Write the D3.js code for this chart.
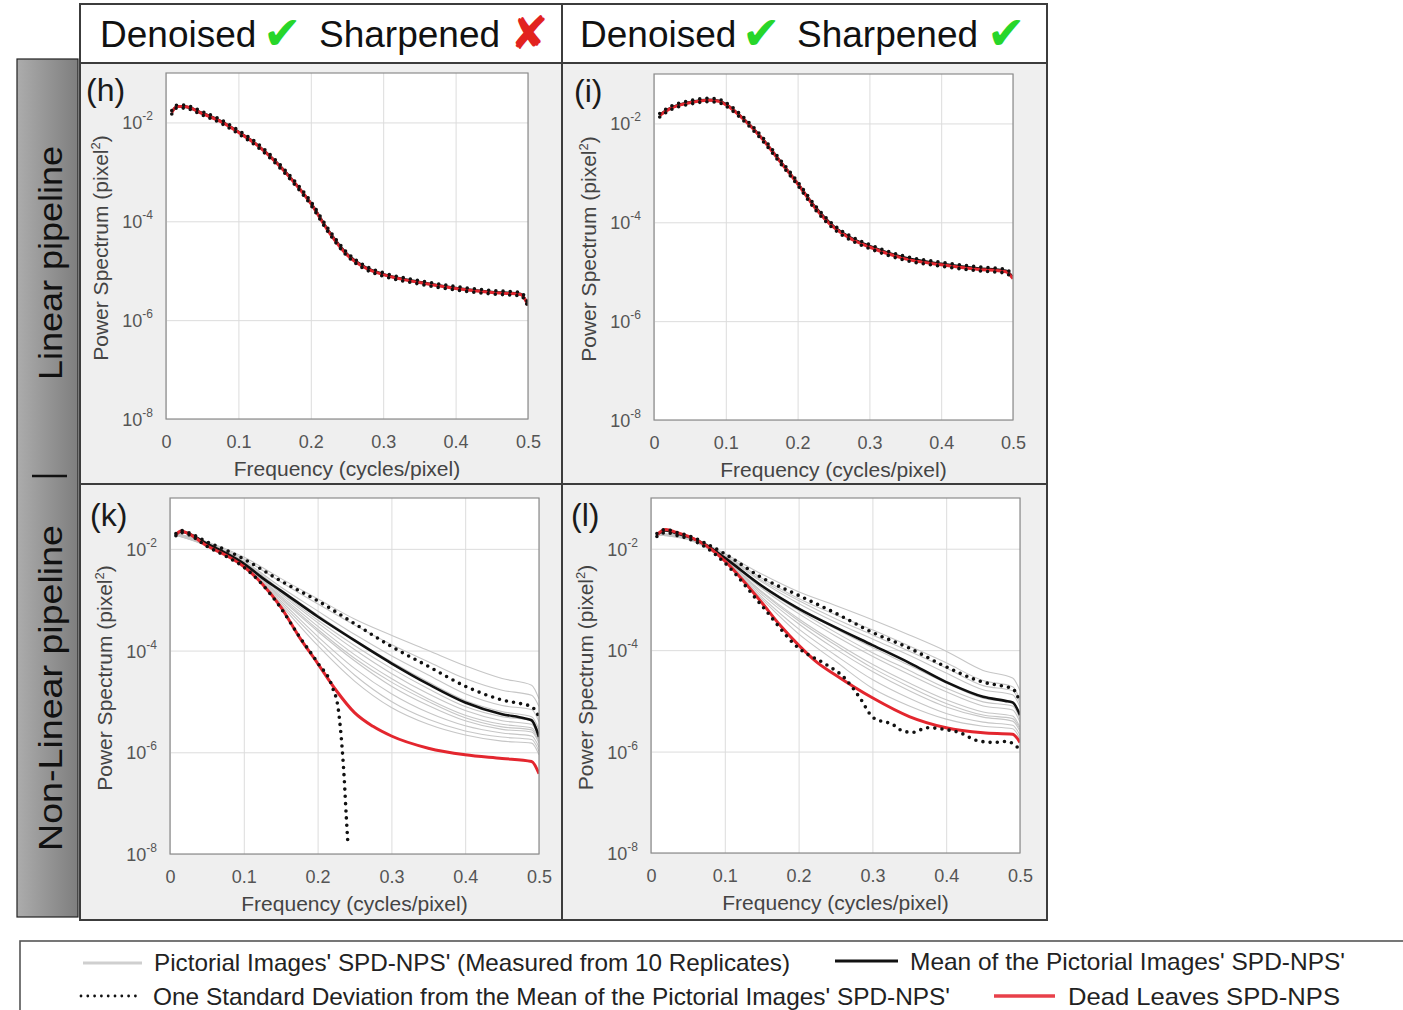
<!DOCTYPE html>
<html>
<head>
<meta charset="utf-8">
<style>
body { margin: 0; background: #fff; }
text { font-family: "Liberation Sans", Arial, Helvetica, sans-serif; }
</style>
</head>
<body>
<svg id="fig" width="1403" height="1010"></svg>
<script src="https://cdn.jsdelivr.net/npm/d3@7"></script>
<script>
// ---- data: [frequency, log10(power)] ----
var hRed   = [[0.008,-1.80],[0.015,-1.68],[0.025,-1.68],[0.05,-1.82],[0.075,-1.98],[0.1,-2.2],[0.125,-2.45],[0.15,-2.78],[0.175,-3.18],[0.2,-3.64],[0.225,-4.22],[0.25,-4.68],[0.275,-4.94],[0.3,-5.08],[0.35,-5.24],[0.4,-5.36],[0.45,-5.44],[0.49,-5.48],[0.5,-5.7]];
var hMean  = [[0.008,-1.79],[0.015,-1.68],[0.025,-1.68],[0.05,-1.81],[0.075,-1.97],[0.1,-2.19],[0.125,-2.44],[0.15,-2.77],[0.175,-3.17],[0.2,-3.63],[0.225,-4.2],[0.25,-4.66],[0.275,-4.93],[0.3,-5.07],[0.35,-5.23],[0.4,-5.35],[0.45,-5.43],[0.49,-5.47],[0.5,-5.69]];
var hUpper = [[0.008,-1.76],[0.015,-1.65],[0.025,-1.65],[0.05,-1.78],[0.075,-1.94],[0.1,-2.16],[0.125,-2.41],[0.15,-2.74],[0.175,-3.14],[0.2,-3.6],[0.225,-4.17],[0.25,-4.63],[0.275,-4.9],[0.3,-5.04],[0.35,-5.2],[0.4,-5.32],[0.45,-5.4],[0.49,-5.44],[0.5,-5.66]];
var hLower = [[0.008,-1.83],[0.015,-1.71],[0.025,-1.71],[0.05,-1.85],[0.075,-2.01],[0.1,-2.23],[0.125,-2.48],[0.15,-2.81],[0.175,-3.21],[0.2,-3.67],[0.225,-4.24],[0.25,-4.7],[0.275,-4.97],[0.3,-5.11],[0.35,-5.27],[0.4,-5.39],[0.45,-5.47],[0.49,-5.51],[0.5,-5.73]];

var iRed   = [[0.008,-1.84],[0.02,-1.72],[0.035,-1.63],[0.05,-1.58],[0.075,-1.53],[0.09,-1.55],[0.1,-1.62],[0.125,-1.92],[0.15,-2.3],[0.175,-2.76],[0.2,-3.22],[0.225,-3.72],[0.25,-4.1],[0.275,-4.34],[0.3,-4.5],[0.35,-4.74],[0.4,-4.86],[0.45,-4.95],[0.49,-5.0],[0.5,-5.14]];
var iMean  = [[0.008,-1.83],[0.02,-1.71],[0.035,-1.62],[0.05,-1.57],[0.075,-1.52],[0.09,-1.54],[0.1,-1.61],[0.125,-1.91],[0.15,-2.29],[0.175,-2.75],[0.2,-3.21],[0.225,-3.7],[0.25,-4.08],[0.275,-4.32],[0.3,-4.48],[0.35,-4.72],[0.4,-4.84],[0.45,-4.93],[0.49,-4.98],[0.5,-5.12]];
var iUpper = [[0.008,-1.8],[0.02,-1.68],[0.035,-1.59],[0.05,-1.54],[0.075,-1.49],[0.09,-1.51],[0.1,-1.58],[0.125,-1.88],[0.15,-2.26],[0.175,-2.72],[0.2,-3.18],[0.225,-3.67],[0.25,-4.05],[0.275,-4.29],[0.3,-4.45],[0.35,-4.69],[0.4,-4.81],[0.45,-4.9],[0.49,-4.95],[0.5,-5.09]];
var iLower = [[0.008,-1.87],[0.02,-1.75],[0.035,-1.66],[0.05,-1.61],[0.075,-1.56],[0.09,-1.58],[0.1,-1.65],[0.125,-1.95],[0.15,-2.33],[0.175,-2.79],[0.2,-3.25],[0.225,-3.75],[0.25,-4.13],[0.275,-4.37],[0.3,-4.53],[0.35,-4.77],[0.4,-4.89],[0.45,-4.98],[0.49,-5.03],[0.5,-5.17]];

var kRed   = [[0.008,-1.72],[0.015,-1.65],[0.025,-1.7],[0.05,-1.94],[0.075,-2.12],[0.1,-2.35],[0.125,-2.69],[0.15,-3.14],[0.175,-3.73],[0.2,-4.25],[0.225,-4.78],[0.25,-5.22],[0.275,-5.49],[0.3,-5.68],[0.35,-5.92],[0.4,-6.05],[0.45,-6.12],[0.49,-6.18],[0.5,-6.42]];
var kMean  = [[0.008,-1.72],[0.015,-1.66],[0.025,-1.7],[0.05,-1.9],[0.075,-2.08],[0.1,-2.29],[0.125,-2.57],[0.15,-2.82],[0.2,-3.33],[0.25,-3.8],[0.3,-4.25],[0.35,-4.66],[0.4,-5.02],[0.45,-5.25],[0.48,-5.33],[0.49,-5.37],[0.5,-5.7]];
var kUpper = [[0.008,-1.7],[0.015,-1.64],[0.025,-1.68],[0.05,-1.86],[0.075,-2.02],[0.1,-2.2],[0.15,-2.63],[0.2,-3.02],[0.25,-3.47],[0.3,-3.92],[0.35,-4.31],[0.4,-4.7],[0.45,-4.97],[0.48,-5.06],[0.49,-5.1],[0.5,-5.3]];
var kLower = [[0.008,-1.74],[0.015,-1.68],[0.025,-1.72],[0.05,-1.95],[0.075,-2.14],[0.1,-2.36],[0.125,-2.7],[0.15,-3.16],[0.175,-3.72],[0.2,-4.24],[0.22,-4.72],[0.228,-5.15],[0.232,-5.7],[0.236,-6.5],[0.239,-7.3],[0.241,-7.78]];

var lRed   = [[0.008,-1.72],[0.02,-1.62],[0.035,-1.68],[0.05,-1.75],[0.075,-1.94],[0.1,-2.24],[0.125,-2.63],[0.15,-3.06],[0.175,-3.51],[0.2,-3.9],[0.225,-4.24],[0.25,-4.49],[0.3,-4.94],[0.35,-5.31],[0.4,-5.53],[0.45,-5.63],[0.49,-5.66],[0.5,-5.82]];
var lMean  = [[0.008,-1.72],[0.02,-1.64],[0.035,-1.7],[0.05,-1.76],[0.075,-1.93],[0.1,-2.18],[0.15,-2.73],[0.2,-3.18],[0.25,-3.55],[0.3,-3.9],[0.35,-4.25],[0.4,-4.63],[0.45,-4.92],[0.48,-5.0],[0.49,-5.03],[0.5,-5.28]];
var lUpper = [[0.008,-1.7],[0.02,-1.62],[0.035,-1.68],[0.05,-1.74],[0.075,-1.9],[0.1,-2.1],[0.15,-2.57],[0.2,-2.92],[0.25,-3.27],[0.3,-3.65],[0.35,-3.96],[0.4,-4.33],[0.45,-4.63],[0.48,-4.72],[0.49,-4.76],[0.5,-5.02]];
var lLower = [[0.008,-1.76],[0.02,-1.68],[0.035,-1.74],[0.05,-1.8],[0.075,-1.98],[0.1,-2.28],[0.15,-3.12],[0.2,-3.96],[0.238,-4.29],[0.261,-4.53],[0.283,-4.94],[0.301,-5.33],[0.328,-5.47],[0.342,-5.6],[0.355,-5.62],[0.374,-5.53],[0.401,-5.57],[0.419,-5.63],[0.441,-5.78],[0.464,-5.82],[0.482,-5.8],[0.5,-5.96]];

// individual pictorial image curves (non-linear pipeline), sampled at grayFreq
var grayFreq = [0.008, 0.05, 0.1, 0.15, 0.2, 0.25, 0.3, 0.35, 0.4, 0.45, 0.49, 0.5];
var kGray = [
  [-1.7,-1.86,-2.16,-2.58,-2.98,-3.38,-3.7,-4.0,-4.3,-4.55,-4.68,-4.95],
  [-1.7,-1.87,-2.2,-2.65,-3.08,-3.5,-3.88,-4.22,-4.55,-4.78,-4.88,-5.1],
  [-1.7,-1.89,-2.26,-2.8,-3.3,-3.78,-4.22,-4.62,-4.98,-5.2,-5.3,-5.55],
  [-1.71,-1.88,-2.24,-2.75,-3.22,-3.68,-4.1,-4.48,-4.85,-5.08,-5.16,-5.4],
  [-1.71,-1.9,-2.27,-2.85,-3.4,-3.9,-4.35,-4.75,-5.1,-5.3,-5.38,-5.62],
  [-1.71,-1.9,-2.28,-2.88,-3.45,-3.98,-4.45,-4.85,-5.18,-5.38,-5.45,-5.7],
  [-1.72,-1.91,-2.3,-2.92,-3.52,-4.08,-4.55,-4.95,-5.27,-5.45,-5.52,-5.75],
  [-1.72,-1.92,-2.3,-2.95,-3.58,-4.15,-4.62,-5.0,-5.32,-5.5,-5.56,-5.8],
  [-1.72,-1.92,-2.31,-2.98,-3.62,-4.2,-4.7,-5.08,-5.38,-5.55,-5.6,-5.82],
  [-1.72,-1.93,-2.32,-3.02,-3.72,-4.35,-4.85,-5.22,-5.48,-5.62,-5.68,-5.9],
  [-1.73,-1.93,-2.33,-3.06,-3.8,-4.48,-5.0,-5.35,-5.58,-5.7,-5.75,-5.98],
  [-1.73,-1.94,-2.34,-3.1,-3.9,-4.6,-5.12,-5.45,-5.66,-5.78,-5.82,-6.05]
];
var lGray = [
  [-1.7,-1.76,-2.1,-2.5,-2.85,-3.12,-3.4,-3.7,-4.02,-4.4,-4.55,-4.8],
  [-1.7,-1.77,-2.13,-2.58,-2.98,-3.3,-3.6,-3.92,-4.25,-4.6,-4.72,-4.98],
  [-1.7,-1.78,-2.15,-2.62,-3.02,-3.38,-3.7,-4.02,-4.35,-4.7,-4.8,-5.05],
  [-1.71,-1.78,-2.16,-2.65,-3.08,-3.45,-3.78,-4.1,-4.45,-4.78,-4.88,-5.12],
  [-1.71,-1.79,-2.18,-2.72,-3.18,-3.58,-3.95,-4.3,-4.65,-4.95,-5.05,-5.3],
  [-1.71,-1.79,-2.19,-2.75,-3.22,-3.65,-4.05,-4.4,-4.75,-5.02,-5.1,-5.36],
  [-1.72,-1.8,-2.2,-2.78,-3.28,-3.72,-4.12,-4.48,-4.82,-5.1,-5.18,-5.42],
  [-1.72,-1.8,-2.21,-2.84,-3.38,-3.85,-4.28,-4.65,-4.98,-5.22,-5.3,-5.52],
  [-1.72,-1.8,-2.21,-2.86,-3.42,-3.9,-4.35,-4.72,-5.05,-5.28,-5.35,-5.56],
  [-1.72,-1.81,-2.22,-2.9,-3.48,-3.98,-4.42,-4.8,-5.12,-5.32,-5.4,-5.6],
  [-1.73,-1.81,-2.23,-2.95,-3.58,-4.1,-4.58,-4.95,-5.25,-5.42,-5.48,-5.68],
  [-1.73,-1.82,-2.24,-2.99,-3.68,-4.22,-4.75,-5.1,-5.36,-5.5,-5.55,-5.75]
];

var xTicks = [0, 0.1, 0.2, 0.3, 0.4, 0.5];
var yTickExp = [-8, -6, -4, -2];
var headers = [["Denoised", "✔", "Sharpened", "✘"], ["Denoised", "✔", "Sharpened", "✔"]];
var legendItems = ["Pictorial Images' SPD-NPS' (Measured from 10 Replicates)",
                   "Mean of the Pictorial Images' SPD-NPS'",
                   "One Standard Deviation from the Mean of the Pictorial Images' SPD-NPS'",
                   "Dead Leaves SPD-NPS"];

var RED = "#e3262e", GRAY = "#c6c6c6", DARK = "#3c3c3c";
var svg = d3.select("#fig");

// ---- side bar ----
var grad = svg.append("defs").append("linearGradient").attr("id", "side").attr("x1", "0%").attr("x2", "100%");
grad.append("stop").attr("offset", "0%").attr("stop-color", "#acacac");
grad.append("stop").attr("offset", "100%").attr("stop-color", "#7e7e7e");
svg.append("rect").attr("x", 17).attr("y", 59).attr("width", 61).attr("height", 858)
    .attr("fill", "url(#side)").attr("stroke", "#222").attr("stroke-width", 1.2);

function sideText(t, yc, len) {
    svg.append("text").attr("transform", "translate(62," + yc + ") rotate(-90)")
        .attr("text-anchor", "middle").style("font-size", "34px").attr("fill", "#111")
        .attr("textLength", len).attr("lengthAdjust", "spacingAndGlyphs").text(t);
}
sideText("Linear pipeline", 263, 234);
sideText("Non-Linear  pipeline", 688, 326);
svg.append("line").attr("x1", 32).attr("x2", 67).attr("y1", 476).attr("y2", 476)
    .attr("stroke", "#111").attr("stroke-width", 2.5);

// ---- grid of cells ----
svg.append("rect").attr("x", 80).attr("y", 4).attr("width", 967).attr("height", 59).attr("fill", "#fff");
svg.append("rect").attr("x", 80).attr("y", 63).attr("width", 967).attr("height", 857).attr("fill", "#efefef");

// headers
var headerX = [[100, 263, 319, 510], [580, 742, 797, 987]];
headers.forEach(function (h, c) {
    var t = svg.append("text").attr("y", 47);
    h.forEach(function (s, j) {
        var mark = (j % 2 === 1);
        t.append("tspan").attr("x", headerX[c][j]).attr("y", mark ? 49 : 47).text(s)
            .style("font-size", mark ? "46px" : "37px")
            .style("font-family", mark ? "'DejaVu Sans', sans-serif" : null)
            .attr("fill", mark ? (s === "✘" ? "#e2231f" : "#27d62a") : "#111");
    });
});

// ---- panels ----
var panels = [
    {label: "(h)", plot: [166, 73, 528, 419], red: hRed, mean: hMean, upper: hUpper, lower: hLower, gray: []},
    {label: "(i)", plot: [654, 74, 1013, 420], red: iRed, mean: iMean, upper: iUpper, lower: iLower, gray: []},
    {label: "(k)", plot: [170, 498, 539, 854], red: kRed, mean: kMean, upper: kUpper, lower: kLower, gray: kGray},
    {label: "(l)", plot: [651, 498, 1020, 853], red: lRed, mean: lMean, upper: lUpper, lower: lLower, gray: lGray}
];

panels.forEach(function (p) {
    var L = p.plot[0], T = p.plot[1], R = p.plot[2], B = p.plot[3];
    var x = d3.scaleLinear().domain([0, 0.5]).range([L, R]);
    var y = d3.scaleLog().domain([1e-8, 1e-1]).range([B, T]);
    var g = svg.append("g");

    g.append("rect").attr("x", L).attr("y", T).attr("width", R - L).attr("height", B - T).attr("fill", "#fff");

    // grid lines
    g.append("g").attr("transform", "translate(0," + B + ")")
        .call(d3.axisBottom(x).tickValues(xTicks).tickSize(-(B - T)).tickFormat(""))
        .call(function (a) { a.select(".domain").remove(); a.selectAll("line").attr("stroke", "#dcdcdc"); });
    g.append("g").attr("transform", "translate(" + L + ",0)")
        .call(d3.axisLeft(y).tickValues(yTickExp.map(function (e) { return Math.pow(10, e); })).tickSize(-(R - L)).tickFormat(""))
        .call(function (a) { a.select(".domain").remove(); a.selectAll("line").attr("stroke", "#dcdcdc"); });

    // x tick labels
    g.append("g").attr("transform", "translate(0," + (B + 29) + ")")
        .call(d3.axisBottom(x).tickValues(xTicks).tickSize(0).tickPadding(0).tickFormat(function (d) { return d === 0 ? "0" : d3.format(".1f")(d); }))
        .call(function (a) {
            a.select(".domain").remove();
            a.selectAll("text").attr("dy", 0).style("font-size", "18px").attr("fill", "#555")
                .style("font-family", "'Liberation Sans', Arial, sans-serif");
        });

    // y tick labels as 10^n
    yTickExp.forEach(function (e) {
        var t = g.append("text").attr("x", L - 13).attr("y", y(Math.pow(10, e)) + 7)
            .attr("text-anchor", "end").attr("fill", "#555").style("font-size", "18px");
        t.append("tspan").text("10");
        t.append("tspan").attr("dy", -9).style("font-size", "12px").text(String(e));
    });

    // axis titles
    g.append("text").attr("x", (L + R) / 2).attr("y", B + 57).attr("text-anchor", "middle")
        .attr("fill", "#444").style("font-size", "21px").text("Frequency (cycles/pixel)");
    var yt = g.append("text").attr("transform", "translate(" + (L - 58) + "," + ((T + B) / 2 + 2) + ") rotate(-90)")
        .attr("text-anchor", "middle").attr("fill", "#444").style("font-size", "21px");
    yt.append("tspan").text("Power Spectrum (pixel");
    yt.append("tspan").attr("dy", -8).style("font-size", "13px").text("2");
    yt.append("tspan").attr("dy", 8).text(")");

    // panel letter
    g.append("text").attr("x", L - 80).attr("y", T + 28).attr("fill", "#1a1a1a")
        .style("font-size", "32px").text(p.label);

    // curves
    var clip = "clip" + p.label.replace(/[()]/g, "");
    g.append("clipPath").attr("id", clip).append("rect")
        .attr("x", L).attr("y", T).attr("width", R - L).attr("height", B - T + 2);
    var cg = g.append("g").attr("clip-path", "url(#" + clip + ")");
    var line = d3.line().x(function (d) { return x(d[0]); }).y(function (d) { return y(Math.pow(10, d[1])); })
        .curve(d3.curveMonotoneX);

    p.gray.forEach(function (vals) {
        var pts = grayFreq.map(function (f, i) { return [f, vals[i]]; });
        cg.append("path").attr("d", line(pts)).attr("fill", "none")
            .attr("stroke", GRAY).attr("stroke-width", 1.1);
    });
    cg.append("path").attr("d", line(p.mean)).attr("fill", "none").attr("stroke", "#111").attr("stroke-width", 2.6);
    cg.append("path").attr("d", line(p.red)).attr("fill", "none").attr("stroke", RED).attr("stroke-width", 3);
    [p.upper, p.lower].forEach(function (s) {
        cg.append("path").attr("d", line(s)).attr("fill", "none").attr("stroke", "#111")
            .attr("stroke-width", 3.6).attr("stroke-linecap", "round").attr("stroke-dasharray", "0,7.2");
    });

    g.append("rect").attr("x", L).attr("y", T).attr("width", R - L).attr("height", B - T)
        .attr("fill", "none").attr("stroke", "#8c8c8c").attr("stroke-width", 1.2);
});

// cell borders
svg.append("rect").attr("x", 80).attr("y", 4).attr("width", 967).attr("height", 916)
    .attr("fill", "none").attr("stroke", DARK).attr("stroke-width", 2);
[[80, 63, 1047, 63], [80, 484, 1047, 484], [562, 4, 562, 920]].forEach(function (s) {
    svg.append("line").attr("x1", s[0]).attr("y1", s[1]).attr("x2", s[2]).attr("y2", s[3])
        .attr("stroke", DARK).attr("stroke-width", 2);
});

// ---- legend ----
svg.append("rect").attr("x", 20).attr("y", 941).attr("width", 1420).attr("height", 100)
    .attr("fill", "#fff").attr("stroke", "#555").attr("stroke-width", 1.6);
var legendPos = [
    {x1: 83, x2: 142, y: 963, tx: 154, ty: 971, w: 636, style: "gray"},
    {x1: 835, x2: 898, y: 961, tx: 910, ty: 970, w: 435, style: "mean"},
    {x1: 81, x2: 142, y: 996, tx: 153, ty: 1005, w: 797, style: "dot"},
    {x1: 994, x2: 1055, y: 996, tx: 1068, ty: 1005, w: 272, style: "red"}
];
legendItems.forEach(function (label, i) {
    var lp = legendPos[i];
    var ln = svg.append("line").attr("x1", lp.x1).attr("x2", lp.x2).attr("y1", lp.y).attr("y2", lp.y).attr("fill", "none");
    if (lp.style === "gray") ln.attr("stroke", "#cfcfcf").attr("stroke-width", 3);
    if (lp.style === "mean") ln.attr("stroke", "#111").attr("stroke-width", 3);
    if (lp.style === "red") ln.attr("stroke", "#e8404a").attr("stroke-width", 3.5);
    if (lp.style === "dot") ln.attr("stroke", "#111").attr("stroke-width", 2.8).attr("stroke-linecap", "round").attr("stroke-dasharray", "0,6.8");
    svg.append("text").attr("x", lp.tx).attr("y", lp.ty).attr("fill", "#222").style("font-size", "24px")
        .style("font-family", "'Liberation Sans Narrow', 'Liberation Sans', Arial, sans-serif")
        .attr("textLength", lp.w).attr("lengthAdjust", "spacingAndGlyphs").text(label);
});
</script>
</body>
</html>
